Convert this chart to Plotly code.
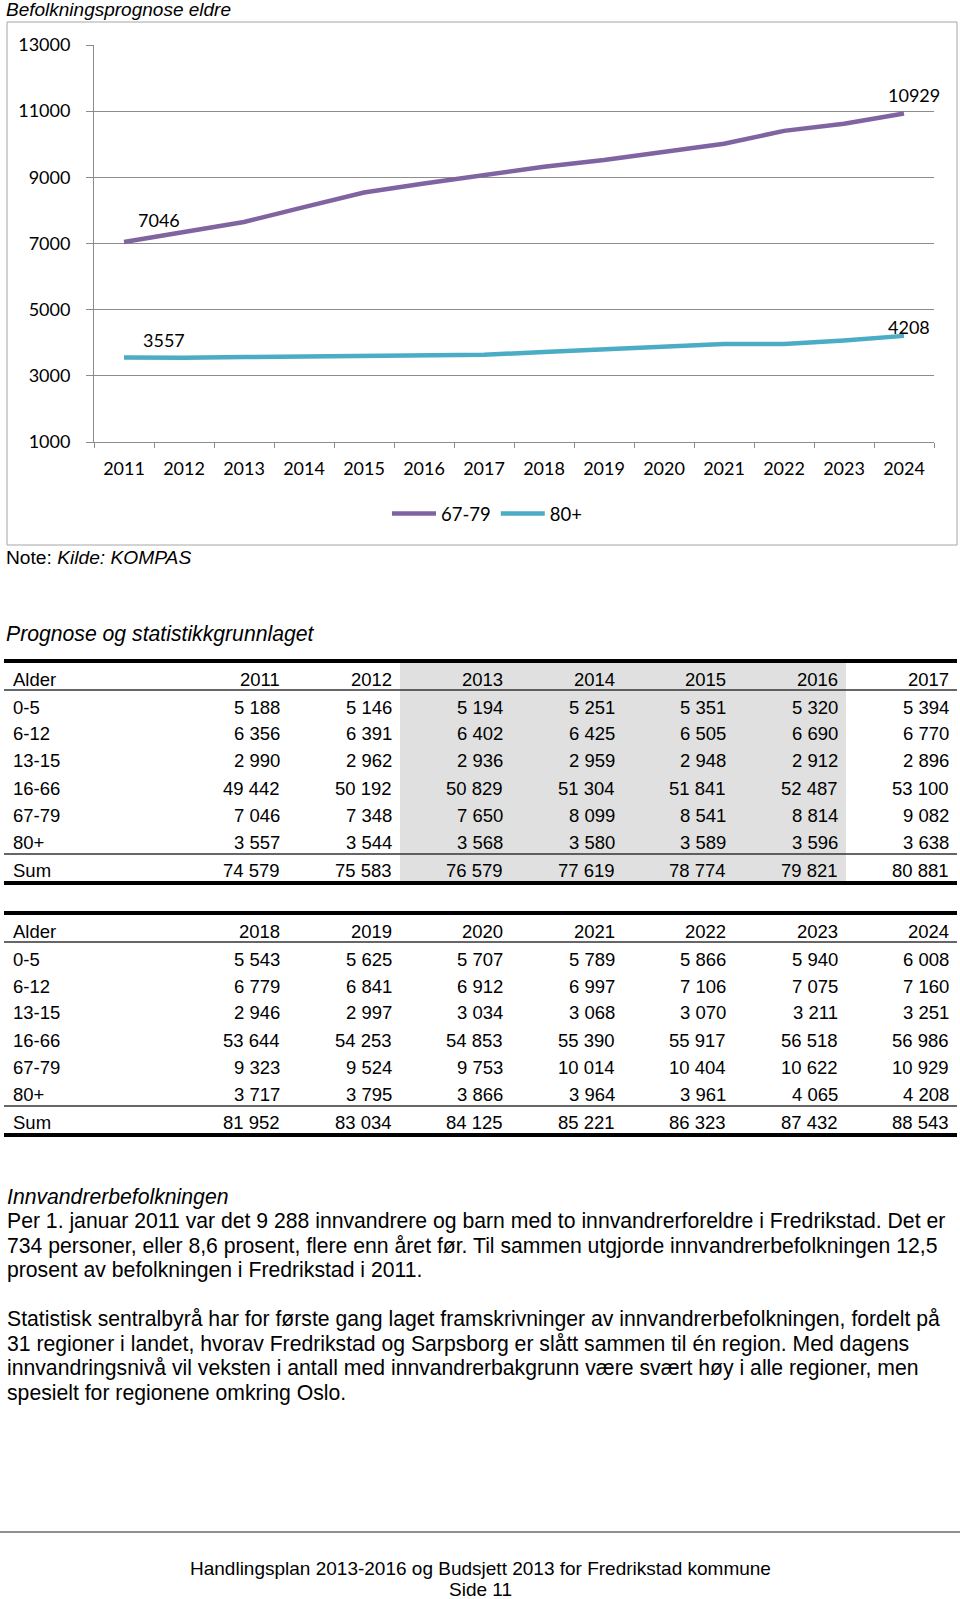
import plotly.graph_objects as go

# ---------------- data ----------------
years = ["2011", "2012", "2013", "2014", "2015", "2016", "2017",
         "2018", "2019", "2020", "2021", "2022", "2023", "2024"]
age_groups = ["0-5", "6-12", "13-15", "16-66", "67-79", "80+"]
v_0_5 = [5188, 5146, 5194, 5251, 5351, 5320, 5394, 5543, 5625, 5707, 5789, 5866, 5940, 6008]
v_6_12 = [6356, 6391, 6402, 6425, 6505, 6690, 6770, 6779, 6841, 6912, 6997, 7106, 7075, 7160]
v_13_15 = [2990, 2962, 2936, 2959, 2948, 2912, 2896, 2946, 2997, 3034, 3068, 3070, 3211, 3251]
v_16_66 = [49442, 50192, 50829, 51304, 51841, 52487, 53100, 53644, 54253, 54853, 55390, 55917, 56518, 56986]
v_67_79 = [7046, 7348, 7650, 8099, 8541, 8814, 9082, 9323, 9524, 9753, 10014, 10404, 10622, 10929]
v_80p = [3557, 3544, 3568, 3580, 3589, 3596, 3638, 3717, 3795, 3866, 3964, 3961, 4065, 4208]
v_sum = [74579, 75583, 76579, 77619, 78774, 79821, 80881, 81952, 83034, 84125, 85221, 86323, 87432, 88543]
series_names = ["67-79", "80+"]
y_ticks = [1000, 3000, 5000, 7000, 9000, 11000, 13000]

chart_title = "Befolkningsprognose eldre"
note_text = "Note: <i>Kilde: KOMPAS</i>"
table_title = "Prognose og statistikkgrunnlaget"
body_heading = "Innvandrerbefolkningen"
body_lines = [
    "Per 1. januar 2011 var det 9 288 innvandrere og barn med to innvandrerforeldre i Fredrikstad. Det er",
    "734 personer, eller 8,6 prosent, flere enn året før. Til sammen utgjorde innvandrerbefolkningen 12,5",
    "prosent av befolkningen i Fredrikstad i 2011.",
    "",
    "Statistisk sentralbyrå har for første gang laget framskrivninger av innvandrerbefolkningen, fordelt på",
    "31 regioner i landet, hvorav Fredrikstad og Sarpsborg er slått sammen til én region. Med dagens",
    "innvandringsnivå vil veksten i antall med innvandrerbakgrunn være svært høy i alle regioner, men",
    "spesielt for regionene omkring Oslo.",
]
footer_lines = ["Handlingsplan 2013-2016 og Budsjett 2013 for Fredrikstad kommune", "Side 11"]

# ---------------- helpers ----------------
W, H = 960, 1599


def px(x):
    return x / W


def py(y):
    return 1 - y / H


def fmt(v):
    return f"{v:,}".replace(",", " ")


CHART_FONT = "Lato, 'Open Sans', sans-serif"
PAGE_FONT = "'Liberation Sans', Arial, sans-serif"
PURPLE = "#8064A2"
TEAL = "#4BACC6"
GRID = "#8C8C8C"

fig = go.Figure()
fig.add_trace(go.Scatter(x=years, y=v_67_79, name=series_names[0], mode="lines",
                         line=dict(color=PURPLE, width=4.5)))
fig.add_trace(go.Scatter(x=years, y=v_80p, name=series_names[1], mode="lines",
                         line=dict(color=TEAL, width=4.5)))

annotations = []
shapes = []

# data labels (first and last point of each series), x given as category index
last = len(years) - 1
for vals, dx0, dy0, dx1, dy1 in [(v_67_79, 35, 22, 10, 19), (v_80p, 40, 17, 5, 9)]:
    annotations.append(dict(x=0, y=vals[0], xref="x", yref="y", text=str(vals[0]),
                            showarrow=False, xshift=dx0, yshift=dy0,
                            font=dict(family=CHART_FONT, size=18, color="black")))
    annotations.append(dict(x=last, y=vals[-1], xref="x", yref="y", text=str(vals[-1]),
                            showarrow=False, xshift=dx1, yshift=dy1,
                            font=dict(family=CHART_FONT, size=18, color="black")))

# chart frame
shapes.append(dict(type="rect", xref="paper", yref="paper", x0=px(7), x1=px(957), y0=py(22), y1=py(545),
                   line=dict(color="#A6A6A6", width=1), fillcolor="rgba(0,0,0,0)", layer="below"))


def text(x, y, s, size, anchor="left", family=PAGE_FONT):
    annotations.append(dict(x=px(x), y=py(y), xref="paper", yref="paper", text=s, showarrow=False,
                            xanchor=anchor, yanchor="middle",
                            font=dict(family=family, size=size, color="black")))


text(4, 10, f"<i>{chart_title}</i>", 19)
text(4, 557, note_text, 19.2)
text(4, 634, f"<i>{table_title}</i>", 21.2)

# ---------------- tables ----------------
rows = [v_0_5, v_6_12, v_13_15, v_16_66, v_67_79, v_80p]
col_right = [282, 394, 505, 617, 728, 840, 951]
TABLE_SIZE = 18.5


def draw_table(top, start, shade):
    # top = y of thick top rule
    if shade:
        shapes.append(dict(type="rect", xref="paper", yref="paper", x0=px(400), x1=px(846),
                           y0=py(top + 1), y1=py(top + 221), fillcolor="#E0E0E0",
                           line=dict(width=0), layer="below"))
    header_y = top + 18
    text(11, header_y, "Alder", TABLE_SIZE)
    for j in range(7):
        text(col_right[j], header_y, years[start + j], TABLE_SIZE, anchor="right")
    for i, (lab, vals) in enumerate(zip(age_groups, rows)):
        yy = top + 46 + i * 27
        text(11, yy, lab, TABLE_SIZE)
        for j in range(7):
            text(col_right[j], yy, fmt(vals[start + j]), TABLE_SIZE, anchor="right")
    sum_y = top + 209
    text(11, sum_y, "Sum", TABLE_SIZE)
    for j in range(7):
        text(col_right[j], sum_y, fmt(v_sum[start + j]), TABLE_SIZE, anchor="right")
    for yy, w, c in [(top, 4, "black"), (top + 29, 1.5, "#333333"),
                     (top + 193, 1.5, "#333333"), (top + 222, 4, "black")]:
        shapes.append(dict(type="line", xref="paper", yref="paper", x0=px(4), x1=px(957),
                           y0=py(yy), y1=py(yy), line=dict(color=c, width=w)))


draw_table(661, 0, True)
draw_table(913, 7, False)

# ---------------- body text ----------------
text(5, 1197, f"<i>{body_heading}</i>", 21.2)
for k, line in enumerate(body_lines):
    if line:
        text(5, 1221 + k * 24.5, line, 21.2)

# footer
shapes.append(dict(type="line", xref="paper", yref="paper", x0=0, x1=1, y0=py(1532), y1=py(1532),
                   line=dict(color="#222222", width=1.2)))
text(480, 1568, footer_lines[0], 19, anchor="center")
text(480, 1589, footer_lines[1], 19, anchor="center")

fig.update_layout(
    width=W, height=H, autosize=False,
    margin=dict(l=0, r=0, t=0, b=0, pad=0, autoexpand=False),
    paper_bgcolor="white", plot_bgcolor="white",
    showlegend=True,
    legend=dict(orientation="h", x=px(487), xanchor="center", y=py(514), yanchor="middle",
                font=dict(family=CHART_FONT, size=18.5, color="black"), bgcolor="rgba(0,0,0,0)",
                itemwidth=44, tracegroupgap=0),
    xaxis=dict(domain=[px(94), px(934)], type="category", categoryorder="array", categoryarray=years,
               range=[-0.5, len(years) - 0.5], autorange=False, fixedrange=True,
               tickson="boundaries", ticks="outside",
               ticklen=5, tickcolor=GRID, showline=True, linecolor=GRID, linewidth=1,
               showgrid=False, tickangle=0, tickfont=dict(family=CHART_FONT, size=18, color="black"),
               ticklabelstandoff=10, automargin=False),
    yaxis=dict(domain=[py(442), py(45)], range=[1000, 13000], autorange=False, fixedrange=True,
               tickvals=y_ticks, ticktext=[str(v) for v in y_ticks],
               ticks="outside", ticklen=7, tickcolor=GRID, showline=True, linecolor=GRID,
               linewidth=1, showgrid=True, gridcolor=GRID, gridwidth=1, zeroline=False,
               tickfont=dict(family=CHART_FONT, size=18, color="black"), ticklabelstandoff=12,
               automargin=False),
    annotations=annotations, shapes=shapes,
)

fig.write_html("out.html", config={"displayModeBar": False},
               post_script="document.body.style.margin='0';document.body.style.overflow='hidden';")
